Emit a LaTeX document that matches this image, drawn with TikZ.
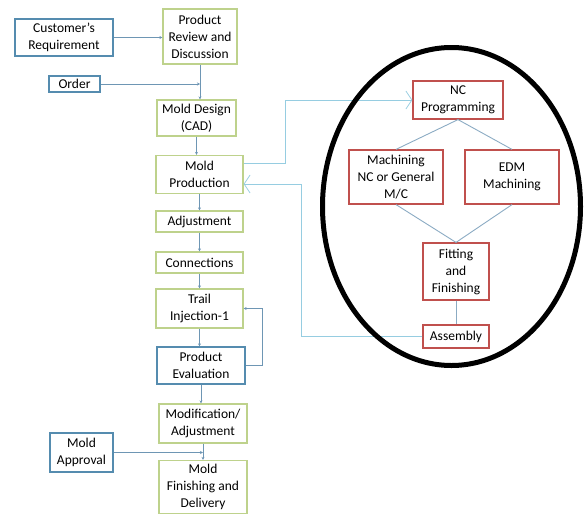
\documentclass[tikz,border=0pt]{standalone}
\usepackage{fontspec}
\setmainfont{Carlito}
\usetikzlibrary{arrows.meta}

\definecolor{boxblue}{RGB}{85,140,175}
\definecolor{boxgreen}{RGB}{190,210,140}
\definecolor{boxred}{RGB}{192,80,77}
\definecolor{linkblue}{RGB}{110,150,180}
\definecolor{longblue}{RGB}{150,205,225}

\tikzset{
  box/.style={draw, line width=1.2pt, align=center, inner sep=1pt, fill=white,
    font=\fontsize{13.5}{17}\selectfont},
  bluebox/.style={box, draw=boxblue},
  greenbox/.style={box, draw=boxgreen},
  redbox/.style={box, draw=boxred},
  link/.style={draw=linkblue, line width=0.9pt, -{Stealth[length=3pt,width=3pt]}},
  longlink/.style={draw=longblue, line width=0.9pt, -{Straight Barb[length=6pt,width=18pt,line width=0.8pt]}},
  branch/.style={draw=linkblue!80, line width=0.9pt}
}

\begin{document}
\begin{tikzpicture}[x=1pt,y=-1pt]
  \useasboundingbox (0,0) rectangle (586,514);

  % left column
  \node[bluebox, minimum width=98pt, minimum height=37pt] (cust) at (64,37.5) {Customer's\\Requirement};
  \node[greenbox, minimum width=74pt, minimum height=55pt] (review) at (200,36.5) {Product\\Review and\\Discussion};
  \node[bluebox, minimum width=51pt, minimum height=16pt] (order) at (74.5,84) {Order};
  \node[greenbox, minimum width=79pt, minimum height=36pt] (design) at (196.5,118) {Mold Design\\(CAD)};
  \node[greenbox, minimum width=87pt, minimum height=38pt] (prod) at (199.5,174.5) {Mold\\Production};
  \node[greenbox, minimum width=87pt, minimum height=21pt] (adjust) at (199.5,221.5) {Adjustment};
  \node[greenbox, minimum width=87pt, minimum height=21pt] (conn) at (199.5,262.5) {Connections};
  \node[greenbox, minimum width=87pt, minimum height=39pt] (trail) at (199.5,308.5) {Trail\\Injection-1};
  \node[bluebox, minimum width=88pt, minimum height=37pt] (eval) at (201,365.5) {Product\\Evaluation};
  \node[greenbox, minimum width=88pt, minimum height=39pt] (modif) at (203,423.5) {Modification/\\Adjustment};
  \node[bluebox, minimum width=63pt, minimum height=39pt] (approval) at (81.5,452.5) {Mold\\Approval};
  \node[greenbox, minimum width=88pt, minimum height=53pt] (finish) at (203,487) {Mold\\Finishing and\\Delivery};

  % right group
  \node[redbox, minimum width=90pt, minimum height=38pt] (nc) at (458,100) {NC\\Programming};
  \node[redbox, minimum width=94pt, minimum height=54pt] (mach) at (396,177) {Machining\\NC or General\\M/C};
  \node[redbox, minimum width=94pt, minimum height=54pt] (edm) at (512,177) {EDM\\Machining};
  \node[redbox, minimum width=66pt, minimum height=57pt] (fit) at (456,271.5) {Fitting\\and\\Finishing};
  \node[redbox, minimum width=66pt, minimum height=23pt] (asm) at (456,336.5) {Assembly};

  \coordinate (upturn) at (285,0);
  \coordinate (back) at (301,184);

  \draw[link] (cust.east) -- (cust.east -| review.west);
  \draw[link] (review.south) -- (review.south |- design.north);
  \draw[link] (order.east) -- (order.east -| review.south);
  \foreach \a/\b in {design/prod,prod/adjust,adjust/conn,conn/trail,trail/eval,eval/modif} {
    \draw[link] (\a.south) -- (\a.south |- \b.north);
  }
  \draw[link] (modif.south) -- (modif.south |- finish.north);
  \draw[link] (approval.east) -- (approval.east -| modif.south);
  \draw[link] (eval.east) -- ++(17,0) |- (trail.east);

  \draw[branch] (nc.south) -- (mach.north);
  \draw[branch] (nc.south) -- (edm.north);
  \draw[branch] (mach.south) -- (fit.north);
  \draw[branch] (edm.south) -- (fit.north);
  \draw[branch] (fit.south) -- (asm.north);

  \draw[longlink] ([yshift=11.5pt]prod.east) -- ([yshift=11.5pt]prod.east -| upturn) |- (nc.west);
  \draw[longlink] (asm.west) -| (back) -- (back -| prod.east);

  \draw[line width=5pt] (451.5,206.5) ellipse [x radius=129pt, y radius=159pt];
\end{tikzpicture}
\end{document}
